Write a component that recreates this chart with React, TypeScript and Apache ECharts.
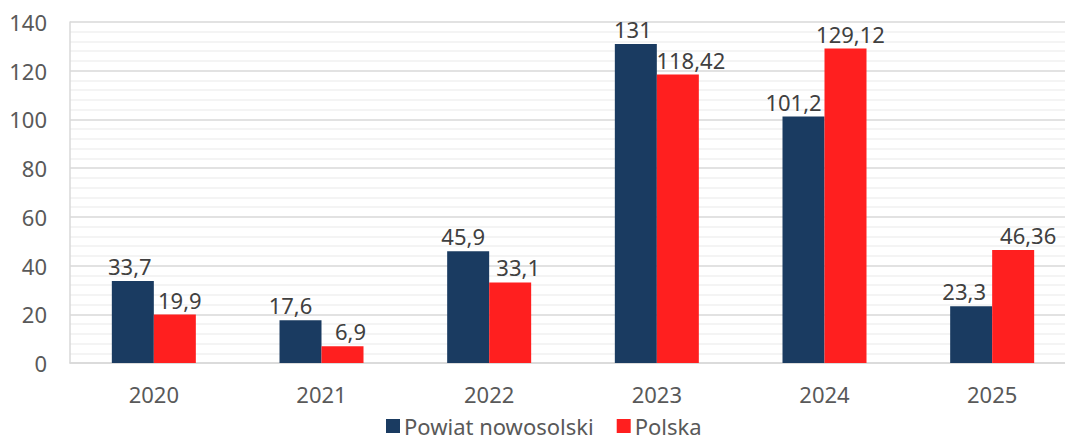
import React, { useEffect, useRef } from "react";
import * as echarts from "echarts";

const categories = ["2020", "2021", "2022", "2023", "2024", "2025"];
const powiatValues = [33.7, 17.6, 45.9, 131, 101.2, 23.3];
const polskaValues = [19.9, 6.9, 33.1, 118.42, 129.12, 46.36];
const seriesNames = ["Powiat nowosolski", "Polska"];

// horizontal nudges of the value labels, as placed in the original chart
const powiatLabelShift = [-3, -10, -5, -3, -10, -7];
const polskaLabelShift = [5, 8, 8, 13, 5, 15];

const FONT = "'Noto Sans', sans-serif";
const fmt = (v: number) => String(v).replace(".", ",");

export default function App() {
  const ref = useRef<HTMLDivElement>(null);
  useEffect(() => {
    if (!ref.current) return;
    const chart = echarts.init(ref.current, undefined, { renderer: "svg" });
    const label = {
      show: true,
      position: "top" as const,
      distance: 4,
      color: "#404040",
      fontSize: 22,
      fontFamily: FONT,
      formatter: (p: any) => fmt(p.value),
    };
    const withShift = (vals: number[], shifts: number[]) =>
      vals.map((v, i) => ({ value: v, label: { offset: [shifts[i], 0] } }));
    chart.setOption({
      animation: false,
      textStyle: { fontFamily: FONT },
      grid: { left: 70, right: 24, top: 22, bottom: 80, containLabel: false },
      legend: {
        data: seriesNames,
        left: 386,
        top: 415,
        padding: 0,
        icon: "rect",
        itemWidth: 14,
        itemHeight: 14,
        itemGap: 23,
        textStyle: { fontSize: 22, lineHeight: 20, color: "#595959", fontFamily: FONT, padding: [0, 0, 0, -1] },
      },
      xAxis: {
        type: "category",
        data: categories,
        axisLine: { show: true, lineStyle: { color: "#d9d9d9", width: 1.5 } },
        axisTick: { show: false },
        axisLabel: { fontSize: 22, color: "#595959", margin: 20, fontFamily: FONT },
      },
      yAxis: {
        type: "value",
        min: 0,
        max: 140,
        interval: 20,
        axisLine: { show: true, lineStyle: { color: "#d9d9d9", width: 1.5 } },
        axisTick: { show: false },
        axisLabel: { fontSize: 22, color: "#595959", margin: 23, fontFamily: FONT },
        splitLine: { show: true, lineStyle: { color: "#d9d9d9", width: 1.5 } },
        minorTick: { show: false, splitNumber: 5 },
        minorSplitLine: { show: true, lineStyle: { color: "#f0f0f0", width: 1.5 } },
      },
      series: [
        {
          name: seriesNames[0],
          type: "bar",
          data: withShift(powiatValues, powiatLabelShift),
          barWidth: 42,
          barGap: "0%",
          itemStyle: { color: "#1A3B61" },
          label,
        },
        {
          name: seriesNames[1],
          type: "bar",
          data: withShift(polskaValues, polskaLabelShift),
          barWidth: 42,
          barGap: "0%",
          itemStyle: { color: "#FF1F1F" },
          label,
        },
      ],
    });
    return () => chart.dispose();
  }, []);
  return (
    <div style={{ position: "fixed", left: 0, top: 0, width: 1065, height: 443, overflow: "hidden", background: "#fff" }}>
      <div ref={ref} style={{ width: 1100, height: 443 }} />
    </div>
  );
}
